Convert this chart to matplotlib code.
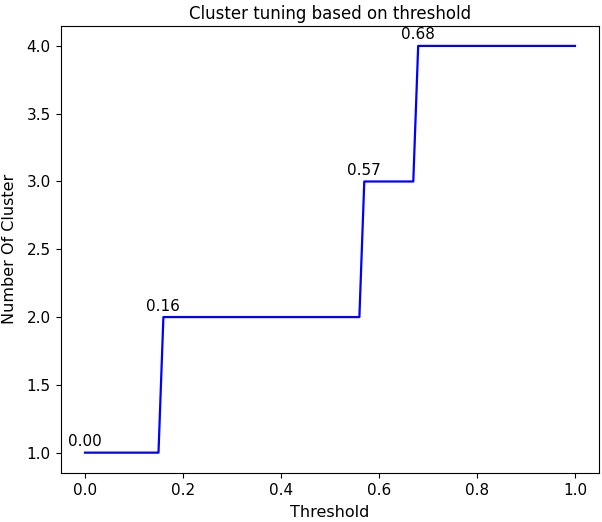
import matplotlib
matplotlib.use("Agg")
import matplotlib.pyplot as plt

# breakpoints of the step curve (threshold sampled every 0.01)
thresholds = [0.0, 0.15, 0.16, 0.56, 0.57, 0.67, 0.68, 1.0]
n_clusters = [1, 1, 2, 2, 3, 3, 4, 4]

# thresholds where the cluster count changes
label_x = [0.00, 0.16, 0.57, 0.68]
label_y = [1, 2, 3, 4]

fig = plt.figure(figsize=(6.02, 5.22), dpi=100)
ax = fig.add_axes([0.1005, 0.0939, 0.8953, 0.8571])

ax.plot(thresholds, n_clusters, color="blue", linewidth=1.6)

for x, y in zip(label_x, label_y):
    ax.annotate(f"{x:.2f}", (x, y), xytext=(0, 2.5), textcoords="offset points",
                ha="center", va="bottom", fontsize=11)

ax.tick_params(labelsize=11)
ax.set_title("Cluster tuning based on threshold", fontsize=12, pad=5)
ax.set_xlabel("Threshold", fontsize=11.5, labelpad=5)
ax.set_ylabel("Number Of Cluster", fontsize=11.5, labelpad=7)

fig.savefig("out.png", dpi=100)
